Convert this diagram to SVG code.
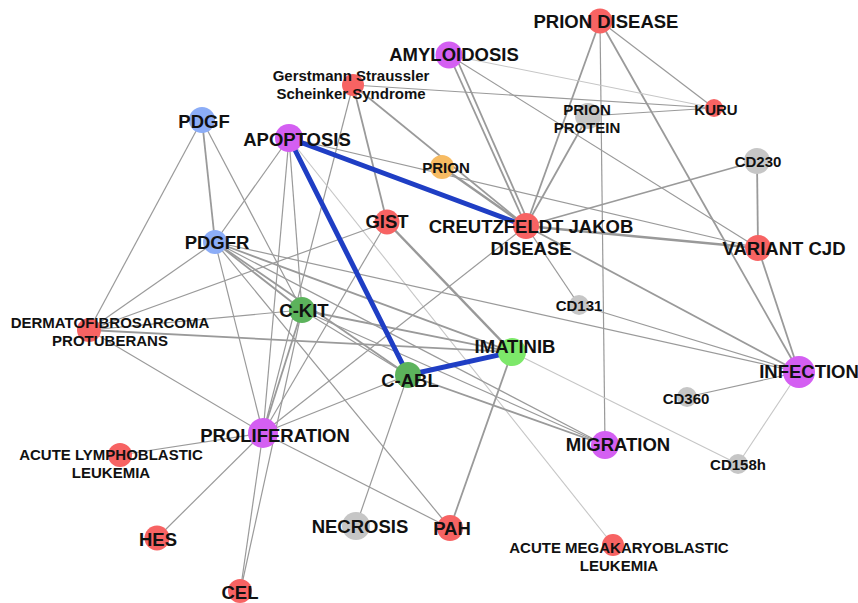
<svg xmlns="http://www.w3.org/2000/svg" width="858" height="603" viewBox="0 0 858 603">
<style>
.e{stroke:#9a9a9a;stroke-width:1.8;fill:none}
.t{stroke:#9a9a9a;stroke-width:1.2}
.l{stroke:#c6c6c6;stroke-width:1.1}
.k{stroke:#999;stroke-width:2.4}
.b{stroke:#1f3ec4;stroke-width:5;stroke-linecap:round}
.red{fill:#f76363}.pur{fill:#d45ff2}.blu{fill:#8cadf7}.grn{fill:#5cb35c}.lgr{fill:#7de86a}.org{fill:#f7bb62}.gry{fill:#c6c6c6}
text{font-family:"Liberation Sans",Arial,sans-serif;font-weight:bold;fill:#111;text-anchor:middle}
.L{font-size:18.5px}.S{font-size:15px}
</style>
<rect width="858" height="603" fill="#fff"/>
<g id="edges">
<line class="e" x1="600" y1="21" x2="526" y2="226"/>
<line class="t" x1="600" y1="21" x2="605" y2="445"/>
<line class="t" x1="600" y1="21" x2="714" y2="108"/>
<line class="e" x1="600" y1="21" x2="799" y2="372"/>
<line class="l" x1="449" y1="55" x2="714" y2="108"/>
<line class="e" x1="449" y1="55" x2="526" y2="226"/>
<line class="e" x1="455" y1="55" x2="530" y2="226"/>
<line class="t" x1="449" y1="55" x2="758" y2="248"/>
<line class="t" x1="353" y1="85" x2="714" y2="108"/>
<line class="e" x1="353" y1="85" x2="526" y2="226"/>
<line class="t" x1="353" y1="85" x2="263" y2="433"/>
<line class="e" x1="353" y1="85" x2="387" y2="222"/>
<line class="t" x1="202" y1="120" x2="89" y2="330"/>
<line class="e" x1="202" y1="120" x2="215" y2="242"/>
<line class="t" x1="202" y1="120" x2="302" y2="310"/>
<line class="t" x1="289" y1="138" x2="215" y2="242"/>
<line class="t" x1="289" y1="138" x2="263" y2="433"/>
<line class="t" x1="289" y1="138" x2="302" y2="310"/>
<line class="t" x1="289" y1="138" x2="758" y2="248"/>
<line class="l" x1="289" y1="138" x2="613" y2="545"/>
<line class="k" x1="442" y1="167" x2="526" y2="226"/>
<line class="e" x1="588" y1="116" x2="526" y2="226"/>
<line class="t" x1="588" y1="116" x2="714" y2="108"/>
<line class="e" x1="526" y1="226" x2="757" y2="161"/>
<line class="e" x1="757" y1="161" x2="758" y2="248"/>
<line class="k" x1="526" y1="226" x2="758" y2="248"/>
<line class="e" x1="758" y1="248" x2="799" y2="372"/>
<line class="e" x1="526" y1="226" x2="799" y2="372"/>
<line class="t" x1="526" y1="226" x2="579" y2="305"/>
<line class="t" x1="526" y1="226" x2="263" y2="433"/>
<line class="t" x1="579" y1="305" x2="799" y2="372"/>
<line class="t" x1="215" y1="242" x2="799" y2="372"/>
<line class="t" x1="799" y1="372" x2="687" y2="397"/>
<line class="l" x1="799" y1="372" x2="738" y2="464"/>
<line class="l" x1="512" y1="352" x2="738" y2="464"/>
<line class="e" x1="512" y1="352" x2="450" y2="528"/>
<line class="k" x1="387" y1="222" x2="512" y2="352"/>
<line class="t" x1="387" y1="222" x2="89" y2="330"/>
<line class="t" x1="387" y1="222" x2="263" y2="433"/>
<line class="t" x1="89" y1="330" x2="215" y2="242"/>
<line class="t" x1="89" y1="330" x2="302" y2="310"/>
<line class="e" x1="89" y1="330" x2="512" y2="352"/>
<line class="t" x1="89" y1="330" x2="263" y2="433"/>
<line class="e" x1="215" y1="242" x2="302" y2="310"/>
<line class="e" x1="215" y1="242" x2="408" y2="375"/>
<line class="e" x1="215" y1="242" x2="512" y2="352"/>
<line class="t" x1="215" y1="242" x2="605" y2="445"/>
<line class="t" x1="215" y1="242" x2="263" y2="433"/>
<line class="t" x1="215" y1="242" x2="450" y2="528"/>
<line class="e" x1="302" y1="310" x2="263" y2="433"/>
<line class="e" x1="302" y1="310" x2="512" y2="352"/>
<line class="t" x1="302" y1="310" x2="408" y2="375"/>
<line class="t" x1="302" y1="310" x2="605" y2="445"/>
<line class="e" x1="408" y1="375" x2="605" y2="445"/>
<line class="t" x1="408" y1="375" x2="356" y2="526"/>
<line class="t" x1="408" y1="375" x2="263" y2="433"/>
<line class="t" x1="263" y1="433" x2="120" y2="455"/>
<line class="t" x1="263" y1="433" x2="157" y2="538"/>
<line class="t" x1="263" y1="433" x2="240" y2="593"/>
<line class="t" x1="302" y1="310" x2="240" y2="593"/>
<line class="t" x1="263" y1="433" x2="450" y2="528"/>
<line class="b" x1="289" y1="138" x2="526" y2="226"/>
<line class="b" x1="289" y1="138" x2="408" y2="375"/>
<line class="b" x1="408" y1="375" x2="512" y2="352"/>
</g>
<g id="n-prion-disease"><circle class="red" cx="600" cy="21" r="12.5"/><text class="L" x="606" y="28">PRION DISEASE</text></g>
<g id="n-amyloidosis"><circle class="pur" cx="449" cy="55" r="13.5"/><text class="L" x="454" y="61">AMYLOIDOSIS</text></g>
<g id="n-gss"><circle class="red" cx="353" cy="85" r="11"/><text class="S" x="351" y="81">Gerstmann Straussler</text><text class="S" x="351" y="99">Scheinker Syndrome</text></g>
<g id="n-pdgf"><circle class="blu" cx="202" cy="120" r="13"/><text class="L" x="204" y="128">PDGF</text></g>
<g id="n-apoptosis"><circle class="pur" cx="289" cy="138" r="14"/><text class="L" x="297" y="146">APOPTOSIS</text></g>
<g id="n-prion"><circle class="org" cx="442" cy="167" r="12"/><text class="S" x="446" y="173">PRION</text></g>
<g id="n-prion-protein"><circle class="gry" cx="588" cy="116" r="13"/><text class="S" x="587" y="115">PRION</text><text class="S" x="587" y="133">PROTEIN</text></g>
<g id="n-kuru"><circle class="red" cx="714" cy="108" r="9"/><text class="S" x="716" y="115">KURU</text></g>
<g id="n-cd230"><circle class="gry" cx="757" cy="161" r="13"/><text class="S" x="758" y="167">CD230</text></g>
<g id="n-gist"><circle class="red" cx="387" cy="222" r="12.5"/><text class="L" x="387" y="228">GIST</text></g>
<g id="n-cjd"><circle class="red" cx="526" cy="226" r="13"/><text class="L" x="531" y="233">CREUTZFELDT JAKOB</text><text class="L" x="531" y="255">DISEASE</text></g>
<g id="n-variant-cjd"><circle class="red" cx="758" cy="248" r="13"/><text class="L" x="784" y="255">VARIANT CJD</text></g>
<g id="n-pdgfr"><circle class="blu" cx="215" cy="242" r="12"/><text class="L" x="217" y="249">PDGFR</text></g>
<g id="n-ckit"><circle class="grn" cx="302" cy="310" r="13"/><text class="L" x="304" y="317">C-KIT</text></g>
<g id="n-dermato"><circle class="red" cx="89" cy="330" r="12"/><text class="S" x="110" y="328">DERMATOFIBROSARCOMA</text><text class="S" x="110" y="346">PROTUBERANS</text></g>
<g id="n-cabl"><circle class="grn" cx="408" cy="375" r="13"/><text class="L" x="410" y="387">C-ABL</text></g>
<g id="n-imatinib"><circle class="lgr" cx="512" cy="352" r="14"/><text class="L" x="515" y="353">IMATINIB</text></g>
<g id="n-cd131"><circle class="gry" cx="579" cy="305" r="10"/><text class="S" x="579" y="311">CD131</text></g>
<g id="n-infection"><circle class="pur" cx="799" cy="372" r="16"/><text class="L" x="809" y="378">INFECTION</text></g>
<g id="n-cd360"><circle class="gry" cx="687" cy="397" r="10"/><text class="S" x="686" y="404">CD360</text></g>
<g id="n-cd158h"><circle class="gry" cx="738" cy="464" r="10"/><text class="S" x="738" y="470">CD158h</text></g>
<g id="n-migration"><circle class="pur" cx="605" cy="445" r="14"/><text class="L" x="618" y="451">MIGRATION</text></g>
<g id="n-proliferation"><circle class="pur" cx="263" cy="433" r="15"/><text class="L" x="275" y="442">PROLIFERATION</text></g>
<g id="n-all"><circle class="red" cx="120" cy="455" r="12"/><text class="S" x="111" y="460">ACUTE LYMPHOBLASTIC</text><text class="S" x="111" y="478">LEUKEMIA</text></g>
<g id="n-hes"><circle class="red" cx="157" cy="538" r="12.5"/><text class="L" x="158" y="546">HES</text></g>
<g id="n-cel"><circle class="red" cx="240" cy="591" r="12"/><text class="L" x="240" y="599">CEL</text></g>
<g id="n-necrosis"><circle class="gry" cx="356" cy="526" r="14"/><text class="L" x="360" y="533">NECROSIS</text></g>
<g id="n-pah"><circle class="red" cx="450" cy="528" r="13"/><text class="L" x="452" y="535">PAH</text></g>
<g id="n-amkl"><circle class="red" cx="613" cy="545" r="11"/><text class="S" x="619" y="553">ACUTE MEGAKARYOBLASTIC</text><text class="S" x="619" y="571">LEUKEMIA</text></g>
</svg>
